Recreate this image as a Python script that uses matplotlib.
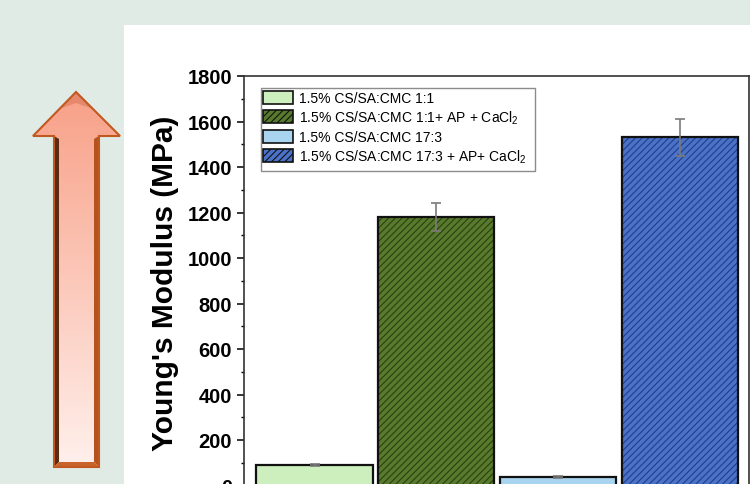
import numpy as np
import matplotlib
matplotlib.use("Agg")
import matplotlib.pyplot as plt
from matplotlib.patches import Patch, Rectangle, Polygon
from matplotlib.ticker import MultipleLocator

plt.rcParams['font.family'] = ['Liberation Sans', 'DejaVu Sans']
plt.rcParams['mathtext.default'] = 'regular'
plt.rcParams['hatch.linewidth'] = 0.8

labels = [
    "1.5% CS/SA:CMC 1:1",
    "1.5% CS/SA:CMC 1:1+ AP + CaCl$_2$",
    "1.5% CS/SA:CMC 17:3",
    "1.5% CS/SA:CMC 17:3 + AP+ CaCl$_2$",
]
modulus = [90, 1180, 37, 1530]
modulus_err = [5, 60, 3, 80]
fill_colors = ["#cdeebd", "#587a2c", "#a9d4ef", "#4a72c8"]
stripe_colors = [None, "#2c4010", None, "#223f86"]
hatches = ["", "/////", "", "/////"]

W, H = 750, 485
fig = plt.figure(figsize=(7.5, 4.85), dpi=100, facecolor="#dfebe4")

# white slide panel behind the plot
fig.patches.append(Rectangle((124 / W, 0), 1 - 124 / W, 1 - 26 / H,
                             transform=fig.transFigure, facecolor="white",
                             edgecolor="none", zorder=0))

# decorative up arrow on the left, drawn in pixel coordinates
deco = fig.add_axes([0, 0, 1, 1], zorder=1)
deco.set_xlim(0, W)
deco.set_ylim(H, 0)
deco.axis("off")
deco.patch.set_alpha(0)
arrow_pts = [(76, 93), (120, 137), (99, 137), (99, 468), (54, 468),
             (54, 137), (33, 137)]
arrow = Polygon(arrow_pts, closed=True, facecolor="none", edgecolor="none")
deco.add_patch(arrow)
grad = np.linspace(0, 1, 256)[:, None]
top = np.array([248, 160, 135]) / 255
bottom = np.array([255, 240, 236]) / 255
img = top + (bottom - top) * grad[..., None]
img = np.repeat(img, 2, axis=1)
im = deco.imshow(img, extent=(30, 124, 468, 93), aspect="auto", zorder=2)
im.set_clip_path(arrow)
# bevelled edges
deco.add_patch(Polygon([(54, 137), (59, 140), (59, 463), (54, 468)],
                       facecolor="#5a2a12", edgecolor="none", zorder=3))
deco.add_patch(Polygon([(99, 137), (94, 140), (94, 463), (99, 468)],
                       facecolor="#b5531f", edgecolor="none", zorder=3))
deco.add_patch(Polygon([(54, 468), (59, 463), (94, 463), (99, 468)],
                       facecolor="#c8642a", edgecolor="none", zorder=3))
deco.add_patch(Polygon([(76, 93), (59, 110), (76, 104), (93, 110)],
                       facecolor="#d9785a", edgecolor="none", alpha=0.6,
                       zorder=3))
deco.add_patch(Polygon(arrow_pts, closed=True, facecolor="none",
                       edgecolor="#c0581f", linewidth=1.5, zorder=4))

ax = fig.add_axes([244 / W, -1.5 / H, 505 / W, 409.5 / H], zorder=2)
x = np.arange(len(modulus))
for i in range(len(modulus)):
    if hatches[i]:
        ax.bar(x[i], modulus[i], width=0.955, color=fill_colors[i],
               edgecolor=stripe_colors[i], hatch=hatches[i], linewidth=0,
               zorder=2)
    else:
        ax.bar(x[i], modulus[i], width=0.955, color=fill_colors[i],
               linewidth=0, zorder=2)
    ax.bar(x[i], modulus[i], width=0.955, fill=False, edgecolor="#111111",
           linewidth=1.6, zorder=3)
ax.errorbar(x, modulus, yerr=modulus_err, fmt="none", ecolor="#7a7a7a",
            elinewidth=1.2, capsize=3.3, capthick=1.2, zorder=4)

ax.set_xlim(-0.58, 3.57)
ax.set_ylim(0, 1800)
ax.set_xticks([])
ax.yaxis.set_major_locator(MultipleLocator(200))
ax.yaxis.set_minor_locator(MultipleLocator(100))
ax.tick_params(axis="y", which="major", direction="out", length=4.7,
               width=1.1, pad=4.0, labelsize=14.5)
ax.tick_params(axis="y", which="minor", direction="out", length=2.5,
               width=1.0)
for lbl in ax.get_yticklabels():
    lbl.set_fontweight("bold")
for sp in ax.spines.values():
    sp.set_linewidth(1.2)
    sp.set_color("#333333")

fig.text(165 / W, 1 - 283.5 / H, "Young's Modulus (MPa)", rotation=90,
         ha="center", va="center", fontsize=21.5, fontweight="bold")

# legend: two groups inside one grey frame
handles = []
for i in range(4):
    handles.append(Patch(facecolor=fill_colors[i], edgecolor="#111111",
                         hatch=hatches[i], linewidth=1.2))
fig.patches.append(Rectangle((261 / W, 1 - 172 / H), 274 / W, 83 / H,
                             transform=fig.transFigure, facecolor="white",
                             edgecolor="#8c8c8c", linewidth=1.0, zorder=5))
legend_kw = dict(frameon=False, fontsize=10, handlelength=2.15,
                 handleheight=1.1, labelspacing=0.22, handletextpad=0.45,
                 borderpad=0, borderaxespad=0, loc="upper left")
leg1 = fig.legend(handles[:2], labels[:2],
                  bbox_to_anchor=(263 / W, 1 - 92 / H), **legend_kw)
leg2 = fig.legend(handles[2:], labels[2:],
                  bbox_to_anchor=(263 / W, 1 - 131 / H), **legend_kw)
leg1.set_zorder(6)
leg2.set_zorder(6)

fig.savefig("out.png", dpi=100, facecolor=fig.get_facecolor())
